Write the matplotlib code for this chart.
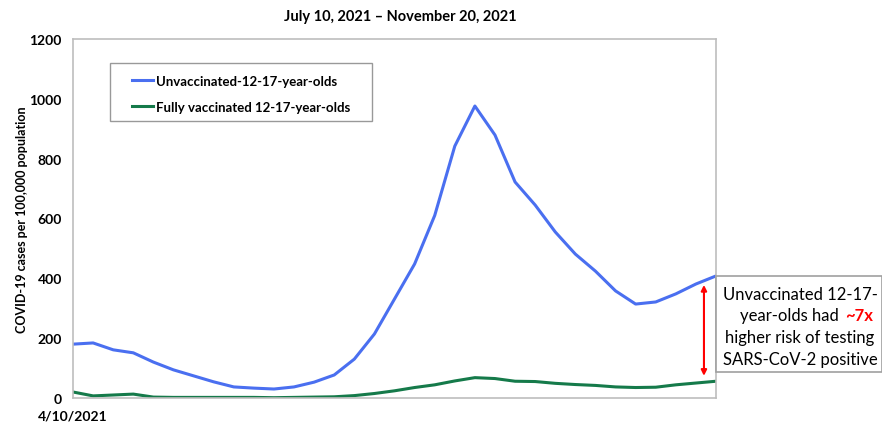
import numpy as np
import matplotlib.pyplot as plt
from matplotlib.patches import Rectangle

plt.rcParams['font.family'] = ['Lato', 'DejaVu Sans']

# weekly rates, 4/10/2021 .. 11/20/2021
unvaccinated = [180, 184, 161, 151, 120, 94, 74, 54, 37, 33, 30, 37, 53, 77, 130, 214,
                331, 448, 610, 842, 976, 879, 722, 645, 555, 481, 424, 358, 314, 321,
                348, 381, 408]
fully_vaccinated = [20, 7, 10, 13, 3, 2, 2, 2, 2, 2, 1, 2, 3, 4, 8, 15,
                    24, 35, 44, 57, 68, 65, 56, 55, 49, 45, 42, 37, 35, 36,
                    44, 50, 56]
first_week = "4/10/2021"
y_ticks = [0, 200, 400, 600, 800, 1000, 1200]

weeks = np.arange(len(unvaccinated))

fig = plt.figure(figsize=(8.82, 4.27), dpi=100)
ax = fig.add_axes([0.0828, 0.0656, 0.7290, 0.8407])

ax.plot(weeks, unvaccinated, color='#4a6ff0', lw=2.2, label='Unvaccinated-12-17-year-olds')
ax.plot(weeks, fully_vaccinated, color='#157a4a', lw=2.2, label='Fully vaccinated 12-17-year-olds')

ax.set_xlim(0, len(weeks) - 1)
ax.set_ylim(0, 1200)
ax.set_yticks(y_ticks)
ax.set_yticklabels([str(v) for v in y_ticks], fontsize=10, fontweight='bold')
ax.set_xticks([0])
ax.set_xticklabels([first_week], fontsize=10, fontweight='bold')
ax.tick_params(length=0, pad=8)
for s in ax.spines.values():
    s.set_color('#bdbdbd')
    s.set_linewidth(1.2)

ax.set_ylabel('COVID-19 cases per 100,000 population', fontsize=9, fontweight='bold', labelpad=1)

fig.text(0.4535, 0.96, 'July 10, 2021 \u2013 November 20, 2021', ha='center', va='center',
         fontsize=10.5, fontweight='bold')

# legend with its own frame
ax.add_patch(Rectangle((0.0575, 0.7716), 0.4075, 0.1615, transform=ax.transAxes,
                       facecolor='white', edgecolor='#999999', lw=1.0, zorder=3))
leg = ax.legend(loc='upper left', bbox_to_anchor=(0.0915, 0.901),
                prop={'weight': 'bold', 'size': 9.5}, frameon=False,
                handlelength=1.6, handletextpad=0.2, borderpad=0, labelspacing=1.1,
                borderaxespad=0)
leg.set_zorder(4)

# gap between the two series in the last week
ax.annotate('', xy=(31.4, fully_vaccinated[-1] + 18), xytext=(31.4, unvaccinated[-1] - 30),
            arrowprops=dict(arrowstyle='<|-|>', color='#ff0000', lw=1.5,
                            mutation_scale=8, shrinkA=0, shrinkB=0))

fig.patches.append(Rectangle((716 / 882, 1 - 373 / 427), 166 / 882, 96 / 427,
                             transform=fig.transFigure, facecolor='white',
                             edgecolor='#a0a0a0', lw=1.2))
cx = 800 / 882
fig.text(cx, 1 - 295 / 427, 'Unvaccinated 12-17-', ha='center', va='center', fontsize=12)
fig.text(839 / 882, 1 - 316 / 427, 'year-olds had', ha='right', va='center', fontsize=12)
fig.text(845 / 882, 1 - 316 / 427, '~7x', ha='left', va='center', fontsize=12,
         color='#ff0000', fontweight='bold')
fig.text(cx, 1 - 338 / 427, 'higher risk of testing', ha='center', va='center', fontsize=12)
fig.text(cx, 1 - 360 / 427, 'SARS-CoV-2 positive', ha='center', va='center', fontsize=12)

fig.savefig('out.png', dpi=100)
